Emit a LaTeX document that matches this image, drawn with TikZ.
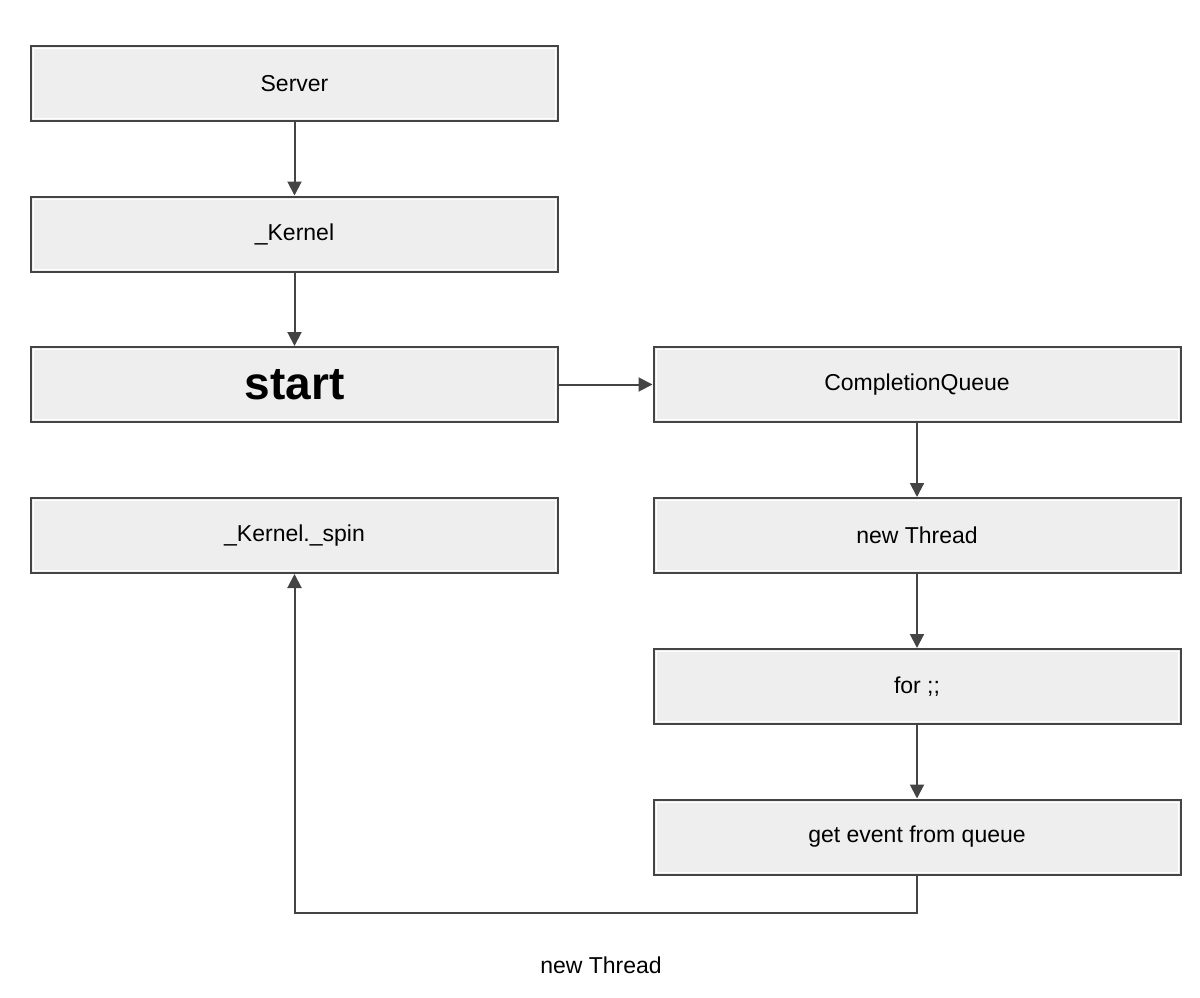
\documentclass[tikz,border=0pt]{standalone}
\usepackage{fontspec}
\setmainfont{Liberation Sans}
\usetikzlibrary{arrows.meta}
\definecolor{boxfill}{HTML}{EEEEEE}
\definecolor{edge}{HTML}{444444}
\begin{document}
\begin{tikzpicture}[x=1pt,y=-1pt,
  box/.style={draw=edge, line width=2pt, fill=boxfill, minimum width=527pt, minimum height=75pt,
    inner sep=0pt, font=\fontsize{23}{27}\selectfont,
    path picture={\draw[white, line width=1pt]
      ([shift={(2.5pt,-2.5pt)}]path picture bounding box.north west) rectangle
      ([shift={(-2.5pt,2.5pt)}]path picture bounding box.south east);}},
  conn/.style={draw=edge, line width=2pt, -{Triangle[length=14pt,width=14pt]}}]
\useasboundingbox (0,0) rectangle (1200,998);
\node[box] (server) at (294.5,83.5) {Server};
\node[box] (kernel) at (294.5,234) {\_Kernel};
\node[box, font=\fontsize{46}{52}\selectfont\bfseries] (start) at (294.5,384.5) {start};
\node[box] (spin) at (294.5,535.5) {\_Kernel.\_spin};
\node[box] (cq) at (917,384.5) {CompletionQueue};
\node[box] (nt) at (917,535.5) {new Thread};
\node[box] (for) at (917,686.5) {for ;;};
\node[box] (get) at (917,837) {get event from queue};
\coordinate (turn) at (917,913);
\node[font=\fontsize{23}{27}\selectfont] (lbl) at (601,965) {new Thread};
\draw[conn] (server) -- (kernel);
\draw[conn] (kernel) -- (start);
\draw[conn] (start) -- (cq);
\draw[conn] (cq) -- (nt);
\draw[conn] (nt) -- (for);
\draw[conn] (for) -- (get);
\draw[conn] (get.south) -- (turn) -| (spin.south);
\end{tikzpicture}
\end{document}
